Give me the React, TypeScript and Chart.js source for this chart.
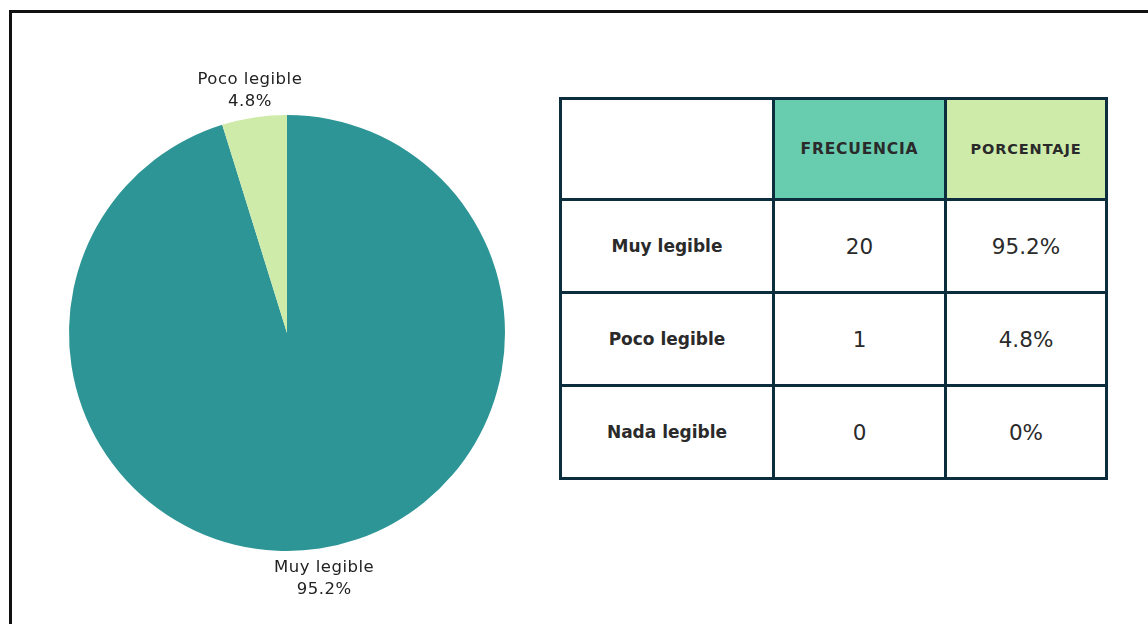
import React, { useEffect, useRef } from "react";
import { Chart, registerables } from "chart.js";

Chart.register(...registerables);

const categories = ["Muy legible", "Poco legible", "Nada legible"];
const frequencies = [20, 1, 0];
const percentages = [95.2, 4.8, 0];
const percentLabels = ["95.2%", "4.8%", "0%"];
const headers = ["", "FRECUENCIA", "PORCENTAJE"];

const sliceColors = ["#2D9596", "#CEEBAA", "#9FD8C4"];
const headerColors = ["#FFFFFF", "#68CCAF", "#CEEBAA"];
const FONT = "'DejaVu Sans', sans-serif";
const BORDER = "#0B2D3E";

const labelPlugin = {
  id: "outerLabels",
  afterDatasetsDraw(chart: any) {
    const ctx = chart.ctx;
    const meta = chart.getDatasetMeta(0);
    ctx.save();
    ctx.fillStyle = "#222";
    ctx.font = `16.5px ${FONT}`;
    try {
      (ctx as any).letterSpacing = "0.5px";
    } catch (e) {}
    ctx.textAlign = "center";
    ctx.textBaseline = "middle";
    meta.data.forEach((arc: any, i: number) => {
      if (!percentages[i]) return;
      const { x, y, startAngle, endAngle, outerRadius } = arc.getProps(
        ["x", "y", "startAngle", "endAngle", "outerRadius"],
        true
      );
      const mid = (startAngle + endAngle) / 2;
      const r = outerRadius + 29;
      const lx = x + Math.cos(mid) * r;
      const ly = y + Math.sin(mid) * r;
      ctx.fillText(categories[i], lx, ly - 9);
      ctx.fillText(percentLabels[i], lx, ly + 13);
    });
    ctx.restore();
  },
};

function PieChart() {
  const ref = useRef<HTMLCanvasElement | null>(null);
  useEffect(() => {
    if (!ref.current) return;
    const chart = new Chart(ref.current, {
      type: "pie",
      data: {
        labels: categories,
        datasets: [
          {
            data: percentages,
            backgroundColor: sliceColors,
            borderWidth: 0,
          },
        ],
      },
      options: {
        responsive: false,
        animation: false,
        layout: { padding: { left: 69, right: 69, top: 115, bottom: 73 } },
        plugins: { legend: { display: false }, tooltip: { enabled: false } },
      },
      plugins: [labelPlugin],
    });
    return () => chart.destroy();
  }, []);
  return (
    <canvas
      ref={ref}
      width={574}
      height={624}
      style={{ position: "absolute", left: 0, top: 0, width: 574, height: 624 }}
    />
  );
}

function DataTable() {
  const rowHeights = [98, 90, 90, 90];
  const colWidths = [210, 169, 158];
  const cells: React.ReactNode[] = [];
  headers.forEach((h, c) => {
    cells.push(
      <div
        key={`h${c}`}
        style={{
          background: headerColors[c],
          display: "flex",
          alignItems: "center",
          justifyContent: "center",
          fontWeight: 700,
          fontSize: c === 1 ? 15.5 : 14.5,
          letterSpacing: c === 1 ? 0.8 : 0.9,
          color: "#2a2a2a",
        }}
      >
        {h}
      </div>
    );
  });
  categories.forEach((cat, r) => {
    const vals = [cat, String(frequencies[r]), percentLabels[r]];
    vals.forEach((v, c) => {
      cells.push(
        <div
          key={`r${r}c${c}`}
          style={{
            background: "#FFFFFF",
            display: "flex",
            alignItems: "center",
            justifyContent: "center",
            fontWeight: c === 0 ? 700 : 400,
            fontSize: c === 0 ? 17 : 21.5,
            color: "#2a2a2a",
          }}
        >
          {v}
        </div>
      );
    });
  });
  return (
    <div
      style={{
        position: "absolute",
        left: 559,
        top: 97,
        display: "grid",
        gridTemplateColumns: colWidths.map((w) => `${w}px`).join(" "),
        gridTemplateRows: rowHeights.map((h) => `${h}px`).join(" "),
        gap: 3,
        padding: 3,
        background: BORDER,
        fontFamily: FONT,
      }}
    >
      {cells}
    </div>
  );
}

export default function App() {
  return (
    <div
      style={{
        position: "fixed",
        left: 0,
        top: 0,
        width: 1148,
        height: 624,
        overflow: "hidden",
        background: "#FFFFFF",
        fontFamily: FONT,
      }}
    >
      <div
        style={{
          position: "absolute",
          left: 9,
          top: 10,
          width: 1300,
          height: 800,
          border: "3px solid #111",
          boxSizing: "border-box",
        }}
      />
      <PieChart />
      <DataTable />
    </div>
  );
}
